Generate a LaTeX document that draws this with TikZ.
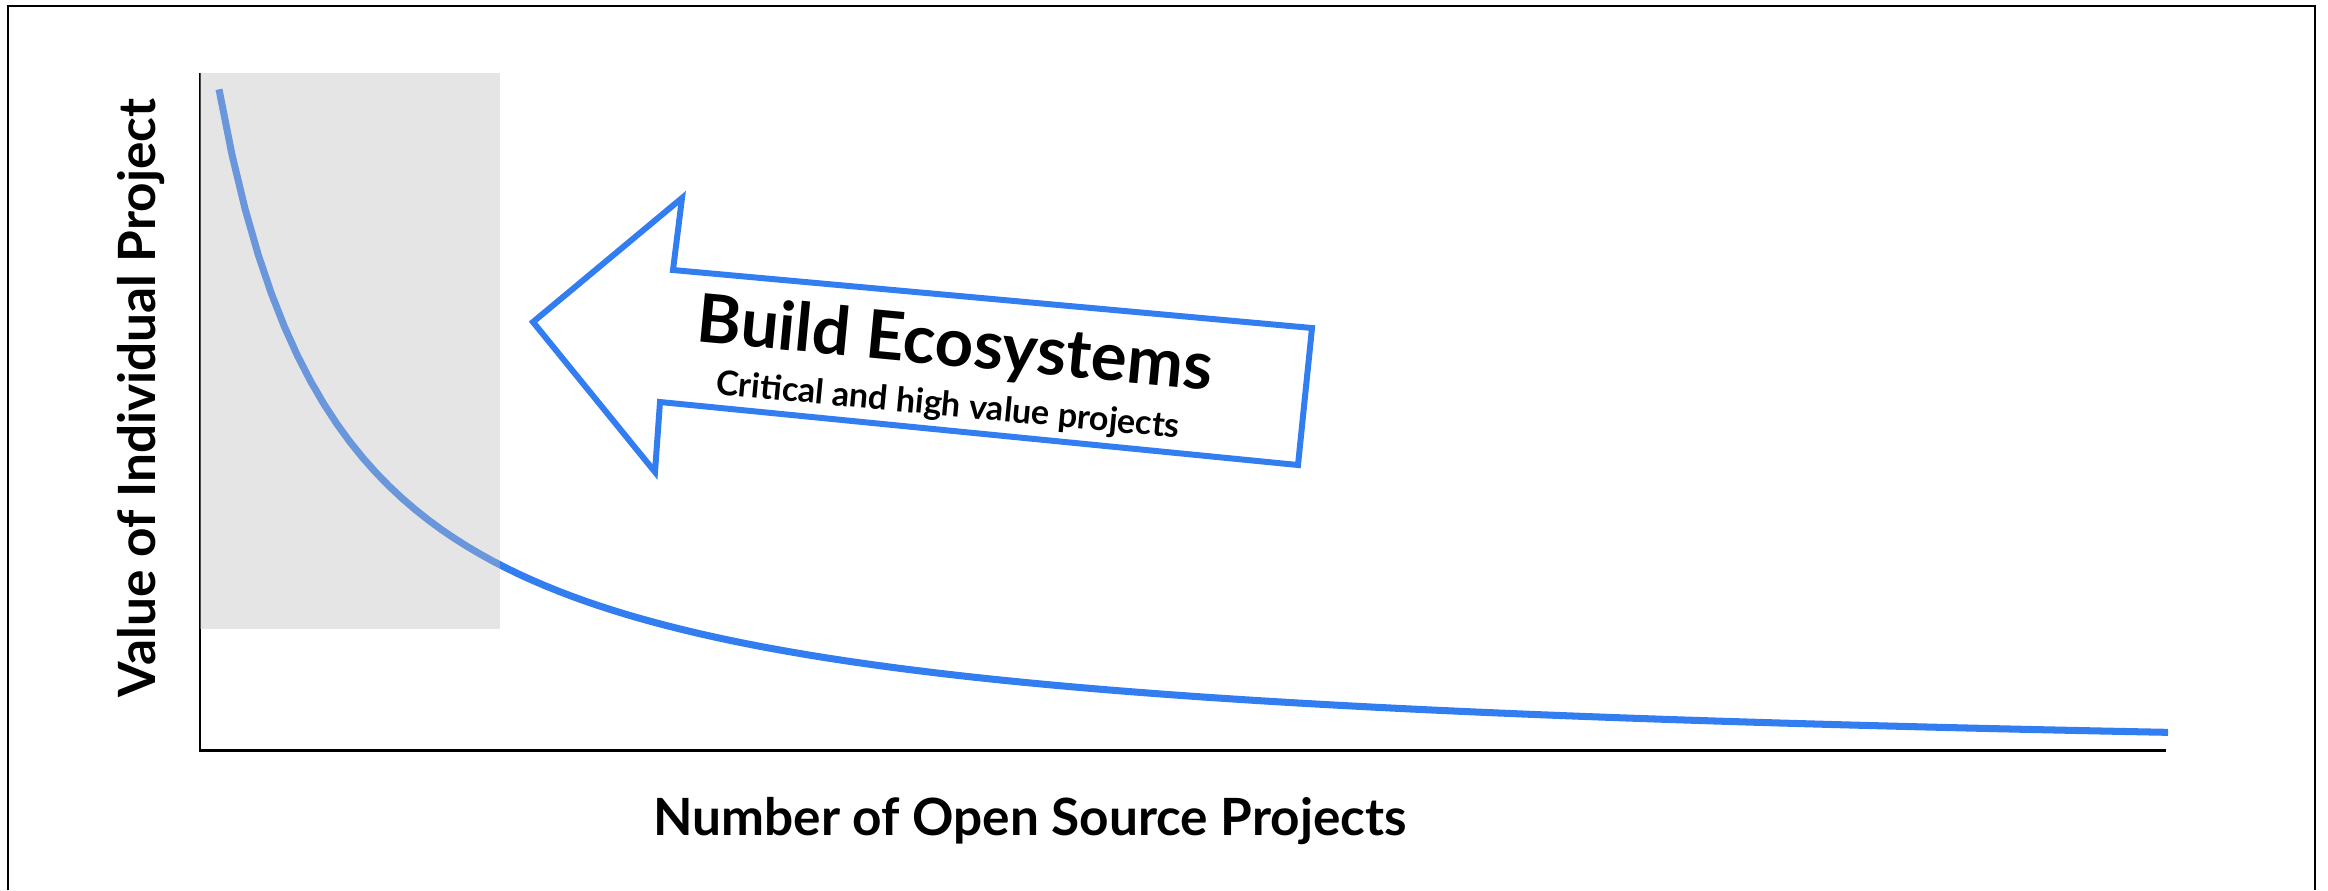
\documentclass[tikz,border=0pt]{standalone}
\usepackage{fontspec}
\setmainfont{Lato}
\definecolor{ecoblue}{RGB}{50,125,240}

\begin{document}
\begin{tikzpicture}[x=0.01cm, y=-0.01cm,
		axis/.style={line width=0.85pt},
		valuecurve/.style={ecoblue, line width=2pt},
		ecoarrow/.style={draw=ecoblue, line width=1.7pt, fill=white},
		axislabel/.style={anchor=base, inner sep=0pt, font=\bfseries\fontsize{14.6}{17}\selectfont}]
			\useasboundingbox (0,0) rectangle (2328,890);
			\draw[line width=0.6pt] (8,890) -- (8,6) -- (2315,6) -- (2315,890);
			% axes and curve
			\coordinate (origin) at (200,750);
			\draw[axis] (200,73) -- (origin) -- (2166,750);
			\draw[valuecurve] plot[domain=219:2168, samples=150] (\x,{772.9-840/(0.01*\x-0.96)});
			\fill[black!25, opacity=0.4] (200,73) rectangle (500,629);
			% arrow
			\draw[ecoarrow] (533,322) -- (682,198) -- (673,270) -- (1312,328) -- (1298,465) -- (660,402) -- (655,472) -- cycle;
			\node[anchor=base, inner sep=0pt, rotate=-5.4, font=\bfseries\fontsize{19.1}{22}\selectfont] (title) at (953,366) {Build Ecosystems};
			\node[anchor=base, inner sep=0pt, rotate=-5.4, font=\bfseries\fontsize{9.7}{11}\selectfont] (subtitle) at (947,416) {Critical and high value projects};
			% axis labels
			\node[axislabel] (xlabel) at (1030,835) {Number of Open Source Projects};
			\node[axislabel, rotate=90] (ylabel) at (155,398) {Value of Individual Project};
		\end{tikzpicture}
\end{document}
